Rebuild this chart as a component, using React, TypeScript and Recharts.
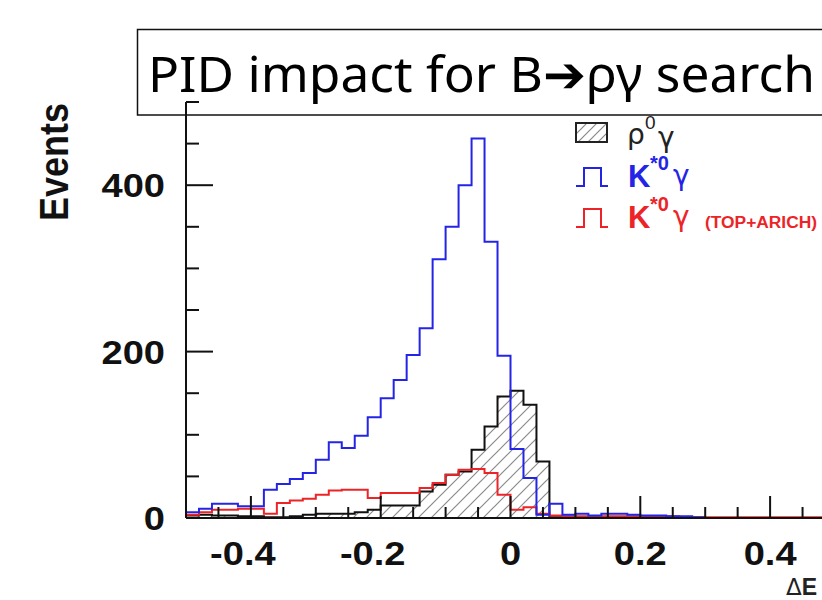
import React from "react";
import { ComposedChart, Area, Line, XAxis, YAxis } from "recharts";

// bin edges of the Delta E histogram (50 bins of 0.02)
const binEdges = [
  -0.5, -0.48, -0.46, -0.44, -0.42, -0.4, -0.38, -0.36, -0.34, -0.32,
  -0.3, -0.28, -0.26, -0.24, -0.22, -0.2, -0.18, -0.16, -0.14, -0.12,
  -0.1, -0.08, -0.06, -0.04, -0.02, 0, 0.02, 0.04, 0.06, 0.08,
  0.1, 0.12, 0.14, 0.16, 0.18, 0.2, 0.22, 0.24, 0.26, 0.28,
  0.3, 0.32, 0.34, 0.36, 0.38, 0.4, 0.42, 0.44, 0.46, 0.48, 0.5,
];

// events per bin
const rhoGamma = [
  3, 4, 3, 3, 2, 2, 1, 1, 2, 4,
  5, 5, 5, 7, 10, 15, 15, 15, 32, 40,
  52, 56, 82, 110, 146, 153, 136, 68, 1, 1,
  1, 1, 0, 0, 0, 0, 0, 0, 0, 0,
  0, 0, 0, 0, 0, 0, 0, 0, 0, 0,
];
const kstGamma = [
  7, 11, 17, 17, 14, 14, 34, 41, 47, 54,
  70, 91, 84, 99, 121, 144, 166, 196, 228, 311,
  350, 400, 456, 332, 195, 83, 48, 4, 17, 4,
  5, 3, 5, 5, 4, 3, 3, 2, 2, 1,
  0, 0, 0, 0, 0, 0, 0, 0, 0, 0,
];
const kstGammaPid = [
  4, 7, 10, 10, 11, 11, 5, 18, 21, 23,
  28, 33, 34, 34, 24, 30, 30, 30, 36, 42,
  52, 58, 59, 54, 28, 10, 13, 5, 3, 2,
  2, 2, 2, 2, 2, 2, 2, 2, 1, 1,
  1, 1, 1, 1, 1, 1, 1, 1, 1, 1,
];

const xTicks = [
  -0.5, -0.45, -0.4, -0.35, -0.3, -0.25, -0.2, -0.15, -0.1, -0.05, 0,
  0.05, 0.1, 0.15, 0.2, 0.25, 0.3, 0.35, 0.4, 0.45, 0.5,
];
const xLabels = [-0.4, -0.2, 0, 0.2, 0.4];
const yTicks = [0, 50, 100, 150, 200, 250, 300, 350, 400, 450, 500];
const yLabels = [0, 200, 400];

const data = binEdges.map((x, i) => {
  const j = Math.min(i, rhoGamma.length - 1);
  return { x, rho: rhoGamma[j], kst: kstGamma[j], pid: kstGammaPid[j] };
});

const BLUE = "#2424e6";
const RED = "#ec2428";
const ROOT_FONT = "'Liberation Sans', Arial, sans-serif";

const isIn = (list: number[], v: number) => list.some((l) => Math.abs(l - v) < 1e-6);
const fmt = (v: number) => (Math.abs(v) < 1e-9 ? "0" : v.toFixed(1));

function XTick({ x, y, payload }: any) {
  const v = payload.value;
  const major = isIn(xLabels, v);
  return (
    <g>
      <line x1={x} x2={x} y1={y} y2={y - (major ? 22 : 11)} stroke="#111" strokeWidth={2} />
      {major && (
        <g transform={`translate(${x + (v < 0 ? -8 : 0)} ${y + 47}) scale(1.12 1)`}>
          <text x={0} y={0} textAnchor="middle" fontFamily={ROOT_FONT} fontWeight="bold" fontSize={34} fill="#111">
            {fmt(v)}
          </text>
        </g>
      )}
    </g>
  );
}

function YTick({ x, y, payload }: any) {
  const v = payload.value;
  const major = isIn(yLabels, v);
  return (
    <g>
      <line x1={x} x2={x + (major ? 27 : 13)} y1={y} y2={y} stroke="#111" strokeWidth={2} />
      {major && (
        <g transform={`translate(${x - 21} ${y + 12}) scale(1.12 1)`}>
          <text x={0} y={0} textAnchor="end" fontFamily={ROOT_FONT} fontWeight="bold" fontSize={34} fill="#111">
            {v}
          </text>
        </g>
      )}
    </g>
  );
}

function Overlay() {
  const greek = "'DejaVu Sans', sans-serif";
  return (
    <svg width={822} height={600} style={{ position: "absolute", left: 0, top: 0, pointerEvents: "none" }}>
      <defs>
        <pattern id="hatchLegend" patternUnits="userSpaceOnUse" width="10" height="10">
          <path d="M0 10 L10 0 M-3 3 L3 -3 M7 13 L13 7" stroke="#888" strokeWidth="1.2" />
        </pattern>
      </defs>
      {/* title box */}
      <rect x={137.5} y={29.5} width={720} height={85.5} fill="none" stroke="#111" strokeWidth={1.5} />
      <text x={148} y={92} fontFamily="'Noto Sans', sans-serif" fontSize={50} fill="#000"
        textLength={667} lengthAdjust="spacingAndGlyphs">
        PID impact for B➔ργ search
      </text>
      {/* axis titles */}
      <g transform="translate(68 162) scale(1.12 1) rotate(-90)">
        <text x={0} y={0} textAnchor="middle" fontFamily={ROOT_FONT} fontWeight="bold" fontSize={36} fill="#111">
          Events
        </text>
      </g>
      <text x={786} y={595} fontSize={23} fill="#222" fontFamily={ROOT_FONT}>
        <tspan fontFamily={greek}>Δ</tspan>
        <tspan fontWeight="bold">E</tspan>
      </text>
      {/* legend */}
      <rect x={576} y={123} width={31} height={19} fill="url(#hatchLegend)" stroke="#222" strokeWidth={2} />
      <text x={627} y={144} fontFamily={greek} fontSize={28} fill="#222">ρ</text>
      <text x={645} y={129} fontFamily={ROOT_FONT} fontSize={19} fill="#222">0</text>
      <text x={658} y={147} fontFamily={greek} fontSize={28} fill="#222">γ</text>

      <path d="M576 186 H584 V168 H601 V186 H608" fill="none" stroke={BLUE} strokeWidth={2} />
      <text x={628} y={187} fontFamily={ROOT_FONT} fontWeight="bold" fontSize={31} fill={BLUE}>K</text>
      <text x={650} y={170} fontFamily={ROOT_FONT} fontWeight="bold" fontSize={20} fill={BLUE}>*0</text>
      <text x={673} y={185} fontFamily={greek} fontSize={28} fill={BLUE}>γ</text>

      <path d="M576 227 H584 V209 H601 V227 H608" fill="none" stroke={RED} strokeWidth={2} />
      <text x={628} y={228} fontFamily={ROOT_FONT} fontWeight="bold" fontSize={31} fill={RED}>K</text>
      <text x={650} y={211} fontFamily={ROOT_FONT} fontWeight="bold" fontSize={20} fill={RED}>*0</text>
      <text x={673} y={226} fontFamily={greek} fontSize={28} fill={RED}>γ</text>
      <text x={705} y={228} fontFamily={ROOT_FONT} fontWeight="bold" fontSize={16} fill={RED}
        textLength={112} lengthAdjust="spacingAndGlyphs">(TOP+ARICH)</text>
    </svg>
  );
}

export default function App() {
  return (
    <div style={{ position: "fixed", left: 0, top: 0, width: 822, height: 600, overflow: "hidden", background: "#fff" }}>
      <ComposedChart width={860} height={600} data={data} margin={{ top: 102, right: 25, bottom: 42, left: 106 }}>
        <defs>
          <pattern id="hatch" patternUnits="userSpaceOnUse" width="13" height="13">
            <path d="M0 13 L13 0 M-3 3 L3 -3 M10 16 L16 10" stroke="#8a8a8a" strokeWidth="1.2" />
          </pattern>
        </defs>
        <XAxis
          dataKey="x" type="number" domain={[-0.5, 0.5]} ticks={xTicks} interval={0}
          tickLine={false} tickSize={0} tickMargin={0} height={40}
          axisLine={{ stroke: "#111", strokeWidth: 2 }} tick={<XTick />}
        />
        <XAxis
          xAxisId="top" orientation="top" dataKey="x" type="number" domain={[-0.5, 0.5]}
          tick={false} tickLine={false} height={0} axisLine={{ stroke: "#111", strokeWidth: 2 }}
        />
        <YAxis
          type="number" domain={[0, 500]} ticks={yTicks} interval={0} allowDataOverflow
          tickLine={false} tickSize={0} tickMargin={0} width={80}
          axisLine={{ stroke: "#111", strokeWidth: 2 }} tick={<YTick />}
        />
        <Area type="stepAfter" dataKey="rho" stroke="#111" strokeWidth={2} fill="url(#hatch)"
          fillOpacity={1} baseValue={0} isAnimationActive={false} />
        <Line type="stepAfter" dataKey="pid" stroke={RED} strokeWidth={2} dot={false} isAnimationActive={false} />
        <Line type="stepAfter" dataKey="kst" stroke={BLUE} strokeWidth={2} dot={false} isAnimationActive={false} />
      </ComposedChart>
      <Overlay />
    </div>
  );
}
